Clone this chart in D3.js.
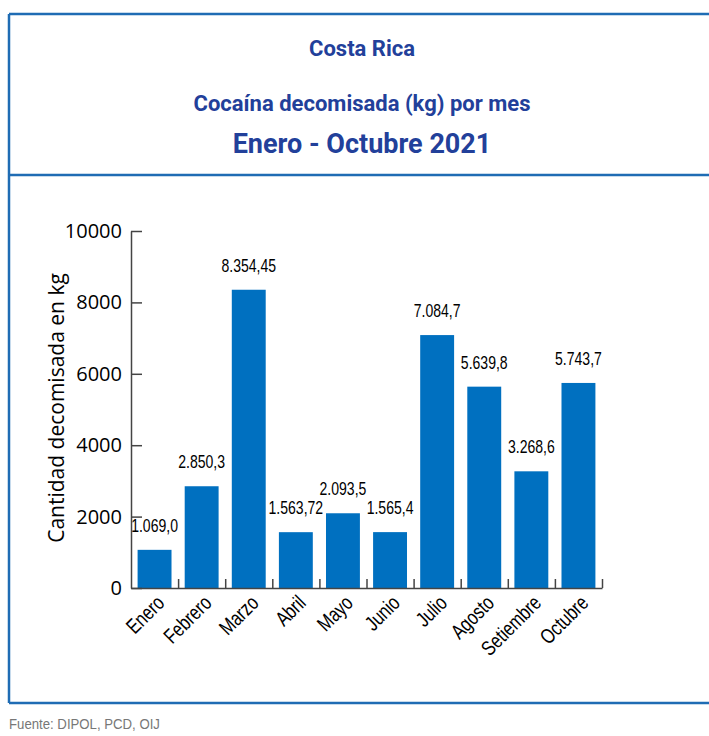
<!DOCTYPE html>
<html>
<head>
<meta charset="utf-8">
<script src="https://cdn.jsdelivr.net/npm/d3@7"></script>
<style>
  body { margin: 0; background: #fff; }
  .title { font-family: Roboto, "Liberation Sans", sans-serif; font-weight: bold; fill: #22409a; text-anchor: middle; }
  .narrow { font-family: "Liberation Sans", Arimo, sans-serif; }
</style>
</head>
<body>
<div id="chart"></div>
<script>
// datos
const months = ["Enero", "Febrero", "Marzo", "Abril", "Mayo", "Junio", "Julio", "Agosto", "Setiembre", "Octubre"];
const kilos = [1069.0, 2850.3, 8354.45, 1563.72, 2093.5, 1565.4, 7084.7, 5639.8, 3268.6, 5743.7];
const kiloLabels = ["1.069,0", "2.850,3", "8.354,45", "1.563,72", "2.093,5", "1.565,4", "7.084,7", "5.639,8", "3.268,6", "5.743,7"];
const yTicks = [0, 2000, 4000, 6000, 8000, 10000];

const W = 709, H = 736;
const frameColor = "#1f6cb4";
const squeeze = 0.78; // letra condensada

const svg = d3.select("#chart").append("svg")
    .attr("width", W)
    .attr("height", H);

// marco
const frame = svg.append("g")
    .attr("stroke", frameColor)
    .attr("stroke-width", 2.5);
frame.append("line").attr("x1", 9).attr("x2", 9).attr("y1", 14).attr("y2", 703);
frame.append("line").attr("x1", 9).attr("x2", W).attr("y1", 14).attr("y2", 14);
frame.append("line").attr("x1", 9).attr("x2", W).attr("y1", 175).attr("y2", 175);
frame.append("line").attr("x1", 9).attr("x2", W).attr("y1", 703).attr("y2", 703);

// títulos
svg.append("text").attr("class", "title").attr("x", 362).attr("y", 56)
    .style("font-size", "22px").text("Costa Rica");
svg.append("text").attr("class", "title").attr("x", 362).attr("y", 111)
    .style("font-size", "22px").text("Cocaína decomisada (kg) por mes");
svg.append("text").attr("class", "title").attr("x", 362).attr("y", 153)
    .style("font-size", "27px").text("Enero - Octubre 2021");

// escalas
const x = d3.scaleBand()
    .domain(months)
    .range([131, 602])
    .paddingInner(0.28)
    .paddingOuter(0.14);

const y = d3.scaleLinear()
    .domain([0, 10000])
    .range([588, 231]);

// barras
svg.append("g").selectAll("rect")
    .data(kilos)
    .join("rect")
    .attr("x", (d, i) => x(months[i]))
    .attr("y", d => y(d))
    .attr("width", x.bandwidth())
    .attr("height", d => y(0) - y(d))
    .attr("fill", "#0070c0");

// etiquetas de valores
svg.append("g").selectAll("text")
    .data(kilos)
    .join("text")
    .attr("class", "narrow")
    .attr("transform", (d, i) =>
        `translate(${x(months[i]) + x.bandwidth() / 2},${y(d) - 18}) scale(${squeeze},1)`)
    .attr("text-anchor", "middle")
    .style("font-size", "18px")
    .attr("fill", "#000")
    .text((d, i) => kiloLabels[i]);

// eje Y
const yAxis = svg.append("g")
    .attr("transform", "translate(131,0)")
    .call(d3.axisLeft(y).tickValues(yTicks).tickFormat(d3.format("d"))
        .tickSizeInner(-11).tickSizeOuter(0).tickPadding(9));
yAxis.select(".domain").attr("stroke", "#444").attr("stroke-width", 1.5);
yAxis.selectAll(".tick line").attr("stroke", "#444").attr("stroke-width", 1.5);
yAxis.selectAll(".tick text")
    .style("font-family", "'Open Sans', 'DejaVu Sans', sans-serif")
    .style("font-size", "20px")
    .attr("fill", "#000");

// eje X: marcas entre categorías
const xb = d3.scaleLinear().domain([0, months.length]).range([131, 602]);
const xAxis = svg.append("g")
    .attr("transform", "translate(0,588)")
    .call(d3.axisBottom(xb).tickValues(d3.range(1, months.length + 1))
        .tickFormat("").tickSizeInner(-9).tickSizeOuter(0));
xAxis.select(".domain").attr("stroke", "#444").attr("stroke-width", 1.5);
xAxis.selectAll(".tick line").attr("stroke", "#444").attr("stroke-width", 1.5);

// nombres de meses
svg.append("g").selectAll("text")
    .data(months)
    .join("text")
    .attr("class", "narrow")
    .attr("transform", d =>
        `translate(${x(d) + x.bandwidth() / 2 + 6},${599}) rotate(-45) scale(${squeeze},1)`)
    .attr("text-anchor", "end")
    .attr("dy", "0.35em")
    .style("font-size", "21px")
    .attr("fill", "#000")
    .text(d => d);

// título eje Y
svg.append("text")
    .attr("transform", "translate(64,408) rotate(-90)")
    .attr("text-anchor", "middle")
    .style("font-family", "'Open Sans', 'DejaVu Sans', sans-serif")
    .style("font-size", "21px")
    .attr("fill", "#000")
    .text("Cantidad decomisada en kg");

// fuente
svg.append("text")
    .attr("class", "narrow")
    .attr("transform", `translate(9,729) scale(0.88,1)`)
    .style("font-size", "15px")
    .attr("fill", "#777")
    .text("Fuente: DIPOL, PCD, OIJ");
</script>
</body>
</html>
